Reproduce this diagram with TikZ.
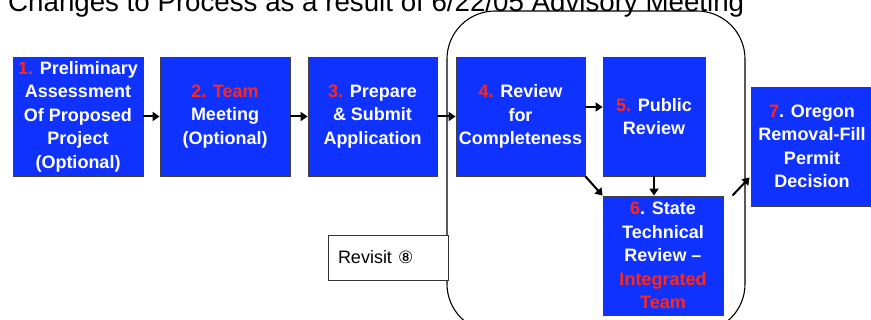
\documentclass[tikz,border=0pt]{standalone}
\usepackage{fontspec}
\setmainfont{Liberation Sans}
\newfontfamily\symfont{DejaVu Sans}
\usetikzlibrary{arrows.meta,calc}
\definecolor{stepblue}{RGB}{16,50,255}
\definecolor{numred}{RGB}{255,40,20}

\begin{document}
\begin{tikzpicture}[x=1pt,y=-1pt,
    stepbox/.style={draw=black!75, line width=0.8pt, fill=stepblue, text=white,
        inner sep=0pt, align=center, font=\fontsize{18}{23.5}\selectfont\bfseries},
    flow/.style={line width=2pt, -{Triangle[length=7pt,width=9pt]}}]
    \useasboundingbox (0,0) rectangle (871,320);

    % Titel (oben abgeschnitten)
    \node[anchor=base west, inner sep=0pt, font=\fontsize{27.7}{30}\selectfont] (titel) at (8,12)
        {Changes to Process as a result of 6/22/05 Advisory Meeting};

    % Schritte
    \node[stepbox, minimum width=130, minimum height=119] (s1) at (78,116.5)
        {\textcolor{numred}{1.} Preliminary\\Assessment\\Of Proposed\\Project\\(Optional)};
    \node[stepbox, minimum width=130, minimum height=119] (s2) at (225,116.5)
        {\textcolor{numred}{2. Team}\\Meeting\\(Optional)};
    \node[stepbox, minimum width=129, minimum height=119] (s3) at (372.5,116.5)
        {\textcolor{numred}{3.} Prepare\\\& Submit\\Application};
    \node[stepbox, minimum width=129, minimum height=119] (s4) at (520.5,116.5)
        {\textcolor{numred}{4.} Review\\for\\Completeness};
    \node[stepbox, minimum width=102, minimum height=119] (s5) at (654,116.5)
        {\textcolor{numred}{5.} Public\\Review};
    \node[stepbox, minimum width=120, minimum height=119] (s6) at (663,255.5)
        {\textcolor{numred}{6}. State\\Technical\\Review --\\\textcolor{numred}{Integrated}\\\textcolor{numred}{Team}};
    \node[stepbox, minimum width=122, minimum height=119] (s7) at (812,146.5)
        {\textcolor{numred}{7}. Oregon\\Removal-Fill\\Permit\\Decision};

    % Rahmen um 4 bis 6
    \draw[line width=1.1pt, rounded corners=48] (447,11) rectangle (745,332);

    % Revisit
    \node[draw=black!80, line width=0.8pt, fill=white, minimum width=120, minimum height=45,
        inner sep=0pt, text width=100, align=left, font=\fontsize{18}{20}\selectfont] (rev) at (388,257.5)
        {Revisit {\symfont\fontsize{17}{20}\selectfont ⑧}};

    % Pfeile
    \foreach \a/\b in {s1/s2, s2/s3, s3/s4}
        \draw[flow] (\a.east) -- (\b.west);
    \coordinate (p45) at ($(s4.east)+(0,-9.5)$);
    \draw[flow] (p45) -- (p45 -| s5.west);
    \draw[flow] (s4.south east) -- (s6.north west);
    \draw[flow] (s5.south) -- (s5.south |- s6.north);
    \coordinate (p67) at ($(s6.north east)+(9,0)$);
    \draw[flow] (p67) -- ($(s7.west)+(-1,31)$);
\end{tikzpicture}
\end{document}
